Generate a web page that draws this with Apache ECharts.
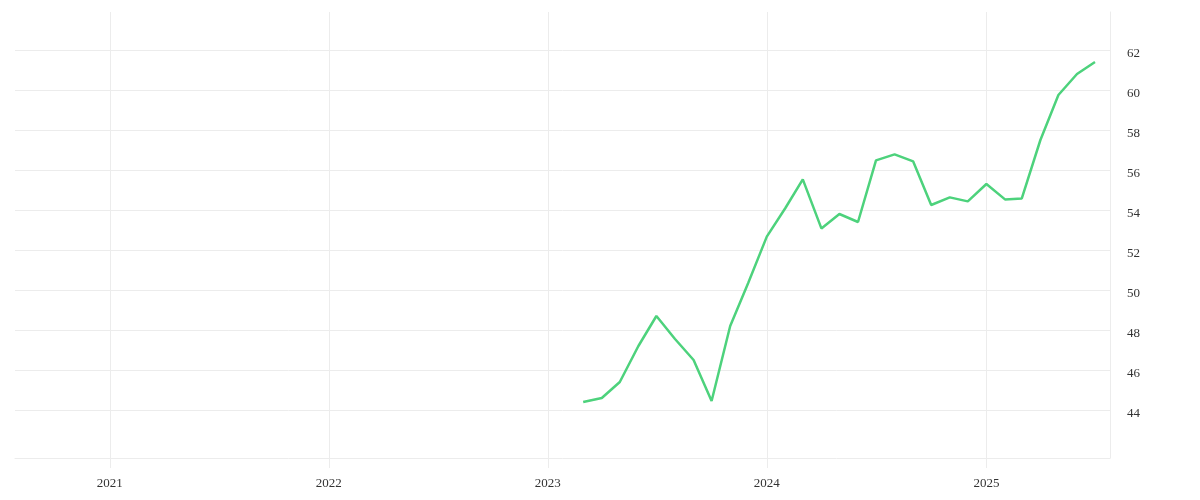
<!DOCTYPE html>
<html>
<head>
<meta charset="utf-8">
<script src="https://cdn.jsdelivr.net/npm/echarts@6/dist/echarts.min.js"></script>
<style>html,body{margin:0;padding:0;background:#fff}#c{width:1200px;height:500px}</style>
</head>
<body>
<div id="c"></div>
<script>
// Monthly observations (first of month), Mar 2023 - Jul 2025
const months = [
  '2023-03-01','2023-04-01','2023-05-01','2023-06-01','2023-07-01','2023-08-01',
  '2023-09-01','2023-10-01','2023-11-01','2023-12-01',
  '2024-01-01','2024-02-01','2024-03-01','2024-04-01','2024-05-01','2024-06-01',
  '2024-07-01','2024-08-01','2024-09-01','2024-10-01','2024-11-01','2024-12-01',
  '2025-01-01','2025-02-01','2025-03-01','2025-04-01','2025-05-01','2025-06-01','2025-07-01'
];
const values = [
  44.4, 44.6, 45.4, 47.2, 48.7, 47.55,
  46.5, 44.45, 48.2, 50.35,
  52.67, 54.1, 55.53, 53.08, 53.8, 53.4,
  56.48, 56.78, 56.43, 54.25, 54.63, 54.43,
  55.3, 54.53, 54.58, 57.5, 59.75, 60.8, 61.4
];
const yearTicks = ['2021-01-01','2022-01-01','2023-01-01','2024-01-01','2025-01-01'];
const yTicks = [44, 46, 48, 50, 52, 54, 56, 58, 60, 62];
const xRange = ['2020-07-27', '2025-07-26'];
const yRange = [41.6, 63.9];

const ts = s => Date.parse(s + 'T00:00:00Z');
const seriesData = months.map((m, i) => [ts(m), values[i]]);
const yearTickTs = yearTicks.map(ts);

const chart = echarts.init(document.getElementById('c'), null, {renderer: 'canvas'});
const gridColor = '#ececec';
const font = '"Liberation Serif", serif';
chart.setOption({
  animation: false,
  grid: {left: 15, right: 90, top: 12, bottom: 42, containLabel: false},
  xAxis: {
    type: 'value',
    min: ts(xRange[0]),
    max: ts(xRange[1]),
    axisLine: {show: true, lineStyle: {color: gridColor, width: 1}},
    axisTick: {show: true, length: 10, lineStyle: {color: gridColor}, customValues: yearTickTs},
    splitLine: {show: true, lineStyle: {color: gridColor, width: 1}},
    axisLabel: {
      customValues: yearTickTs,
      formatter: v => String(new Date(v).getUTCFullYear()),
      color: '#333', fontFamily: font, fontSize: 13, margin: 19
    }
  },
  yAxis: {
    type: 'value',
    position: 'right',
    min: yRange[0],
    max: yRange[1],
    axisLine: {show: true, lineStyle: {color: gridColor, width: 1}},
    axisTick: {show: false, customValues: yTicks},
    splitLine: {show: true, lineStyle: {color: gridColor, width: 1}},
    axisLabel: {
      customValues: yTicks,
      formatter: v => '{a|' + v + '}',
      rich: {a: {color: '#333', fontFamily: font, fontSize: 13, padding: [8, 0, 0, 0]}},
      color: '#333', fontFamily: font, fontSize: 13, margin: 17
    }
  },
  series: [{
    type: 'line',
    data: seriesData,
    showSymbol: false,
    symbol: 'none',
    lineStyle: {color: '#4dd27c', width: 2.5},
    itemStyle: {color: '#4dd27c'}
  }]
});
</script>
</body>
</html>
